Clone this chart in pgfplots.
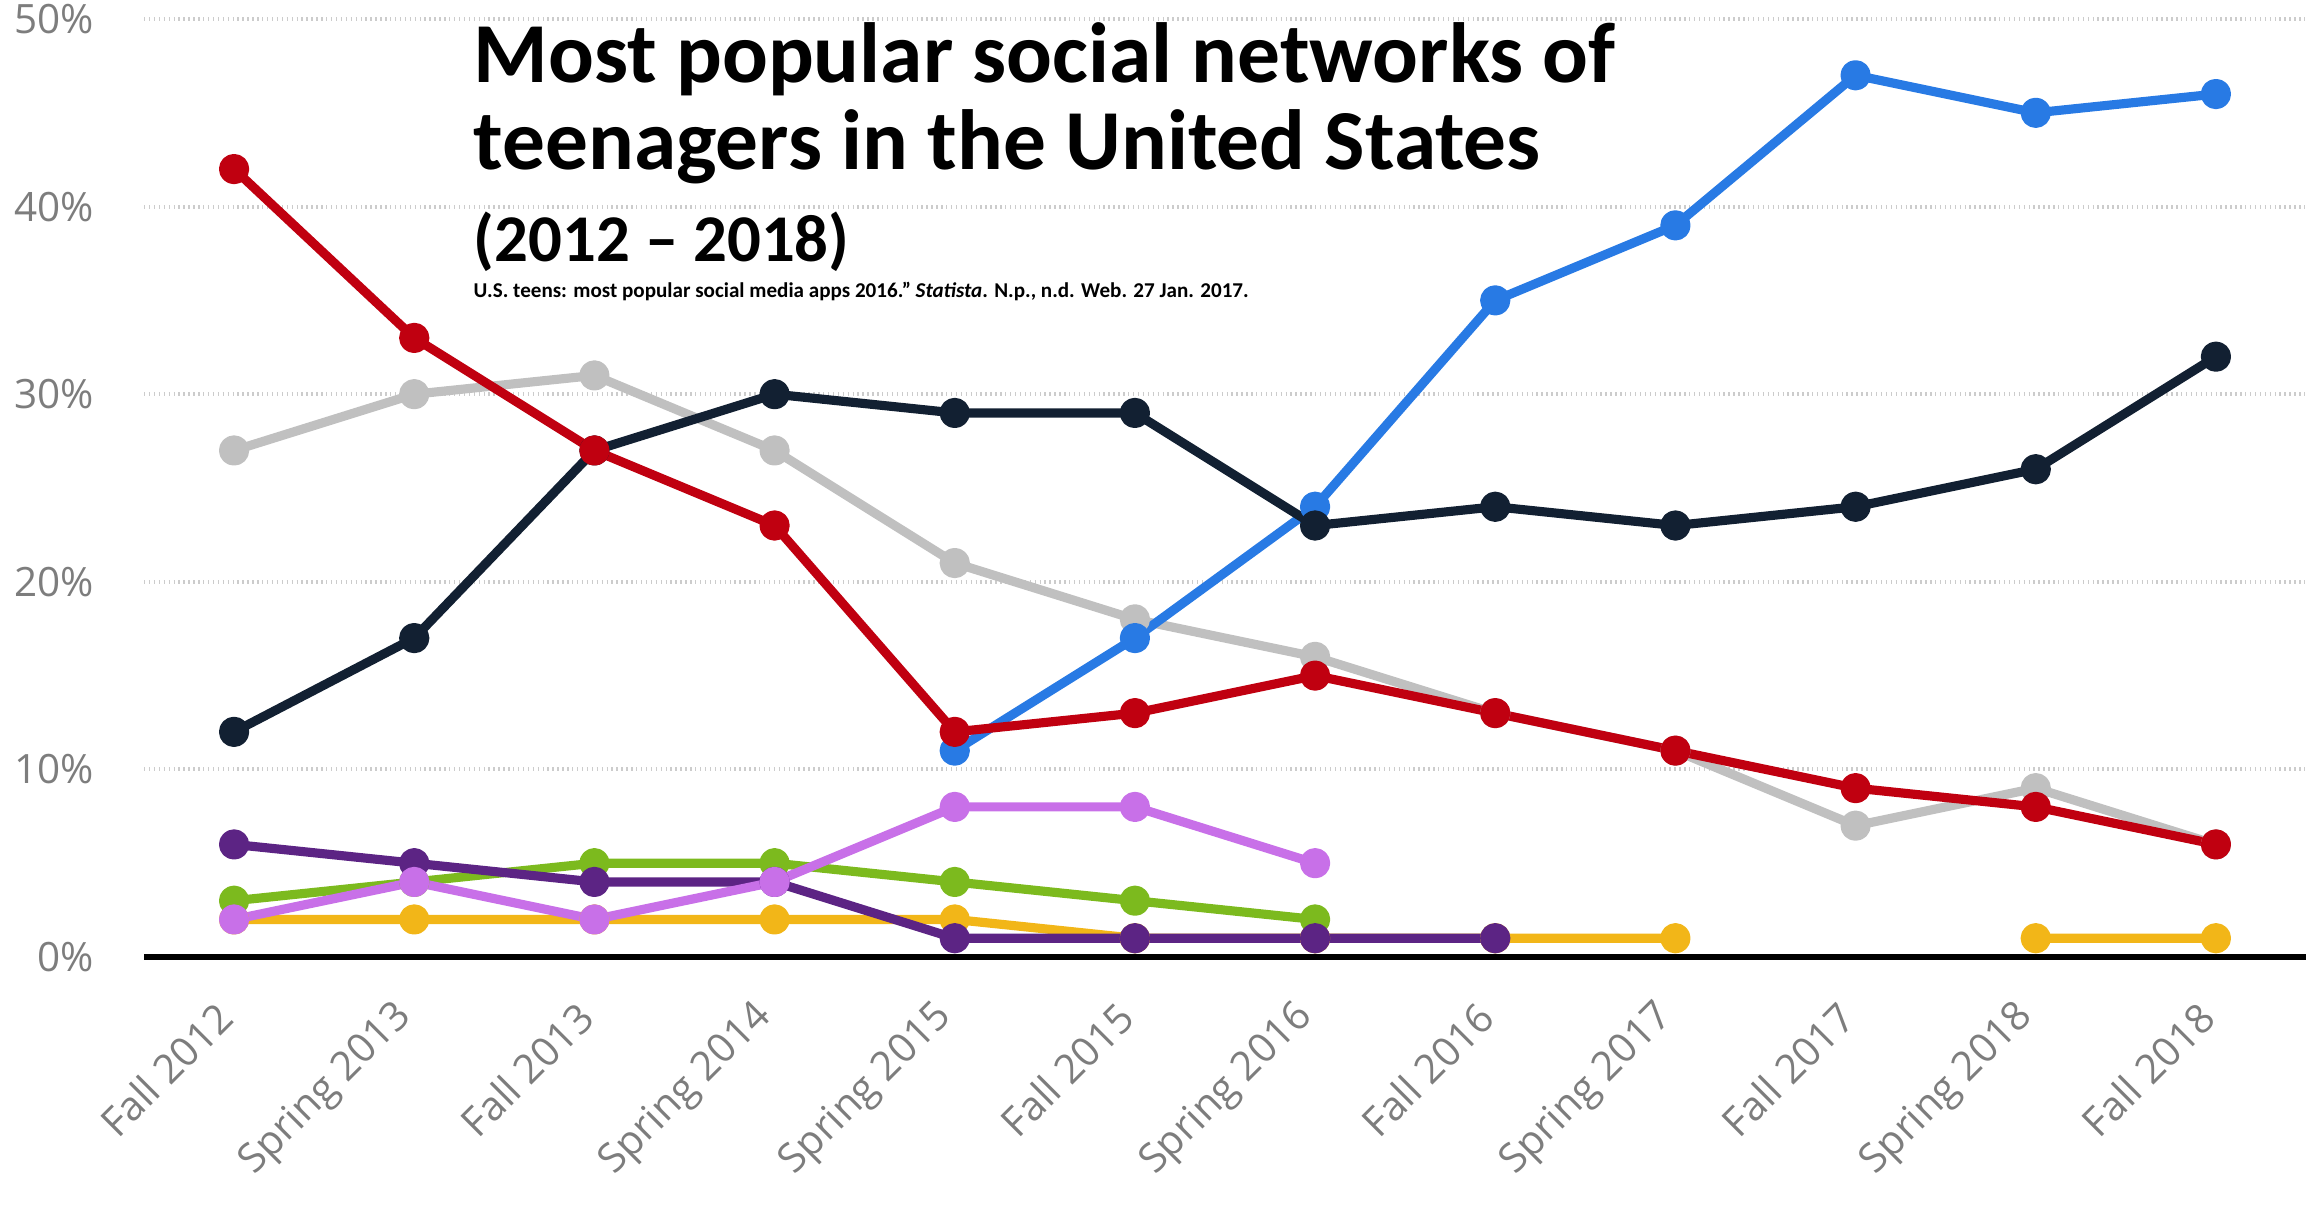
\documentclass[border=0pt]{standalone}
\usepackage{fontspec}
\setmainfont{Carlito}
\newfontfamily\tickfont{Open Sans}
\usepackage{pgfplots}
\pgfplotsset{compat=1.18}
\definecolor{cblue}{RGB}{40,122,228}
\definecolor{cnavy}{RGB}{18,32,50}
\definecolor{cred}{RGB}{192,0,16}
\definecolor{cgray}{RGB}{192,192,192}
\definecolor{cpurple}{RGB}{92,36,132}
\definecolor{cgreen}{RGB}{124,186,30}
\definecolor{cpink}{RGB}{200,112,232}
\definecolor{cyellow}{RGB}{242,182,24}
\definecolor{tickgray}{RGB}{125,125,125}
\begin{document}
\begin{tikzpicture}
\useasboundingbox (-1.44,-2.53) rectangle (21.62,9.57);
\begin{axis}[
  at={(0,0)}, anchor=south west,
  scale only axis, width=21.62cm, height=9.38cm,
  xmin=-0.5, xmax=11.5, ymin=0, ymax=50,
  xtick={0,...,11},
  xticklabels={Fall 2012,Spring 2013,Fall 2013,Spring 2014,Spring 2015,Fall 2015,Spring 2016,Fall 2016,Spring 2017,Fall 2017,Spring 2018,Fall 2018},
  ytick={0,10,20,30,40,50},
  yticklabel={\tickfont\pgfmathprintnumber[assume math mode=true]{\tick}\%},
  axis x line=bottom, axis y line=left,
  x axis line style={-, black, line width=1.8pt},
  y axis line style={draw=none},
  major tick length=0pt,
  ymajorgrids,
  major grid style={densely dotted, gray!40, line width=1.1pt},
  tick label style={font=\tickfont\fontsize{11.5}{13}\selectfont, text=tickgray},
  xticklabel style={rotate=45, anchor=east},
  xticklabel shift=0.45cm,
  yticklabel style={anchor=east},
  yticklabel shift=0.38cm,
  unbounded coords=jump,
  every axis plot/.append style={line width=2.6pt, mark=*, mark size=3pt, line join=round},
  clip=false,
]
% Yellow
\addplot[color=cyellow, mark options={fill=cyellow}] coordinates {
(0,2) (1,2) (2,2) (3,2) (4,2) (5,1) (6,1) (7,1) (8,1) (9,nan) (10,1) (11,1)};
% Green
\addplot[color=cgreen, mark options={fill=cgreen}] coordinates {
(0,3) (1,4) (2,5) (3,5) (4,4) (5,3) (6,2)};
% Purple
\addplot[color=cpurple, mark options={fill=cpurple}] coordinates {
(0,6) (1,5) (2,4) (3,4) (4,1) (5,1) (6,1) (7,1)};
% Pink
\addplot[color=cpink, mark options={fill=cpink}] coordinates {
(0,2) (1,4) (2,2) (3,4) (4,8) (5,8) (6,5)};
% Gray
\addplot[color=cgray, mark options={fill=cgray}] coordinates {
(0,27) (1,30) (2,31) (3,27) (4,21) (5,18) (6,16) (7,13) (8,11) (9,7) (10,9) (11,6)};
% Blue
\addplot[color=cblue, mark options={fill=cblue}] coordinates {
(4,11) (5,17) (6,24) (7,35) (8,39) (9,47) (10,45) (11,46)};
% Navy
\addplot[color=cnavy, mark options={fill=cnavy}] coordinates {
(0,12) (1,17) (2,27) (3,30) (4,29) (5,29) (6,23) (7,24) (8,23) (9,24) (10,26) (11,32)};
% Red
\addplot[color=cred, mark options={fill=cred}] coordinates {
(0,42) (1,33) (2,27) (3,23) (4,12) (5,13) (6,15) (7,13) (8,11) (9,9) (10,8) (11,6)};
\end{axis}
\node[anchor=base west, inner sep=0pt, font=\bfseries\fontsize{24.3}{29}\selectfont] at (3.29,8.74) {Most popular social networks of};
\node[anchor=base west, inner sep=0pt, font=\bfseries\fontsize{24.3}{29}\selectfont] at (3.29,7.87) {teenagers in the United States};
\node[anchor=base west, inner sep=0pt, font=\bfseries\fontsize{19}{22}\selectfont] at (3.29,6.95) {(2012 – 2018)};
\node[anchor=base west, inner sep=0pt, font=\bfseries\fontsize{6}{7}\selectfont] at (3.29,6.59) {U.S. teens: most popular social media apps 2016." \textit{Statista}. N.p., n.d. Web. 27 Jan. 2017.};
\end{tikzpicture}
\end{document}
